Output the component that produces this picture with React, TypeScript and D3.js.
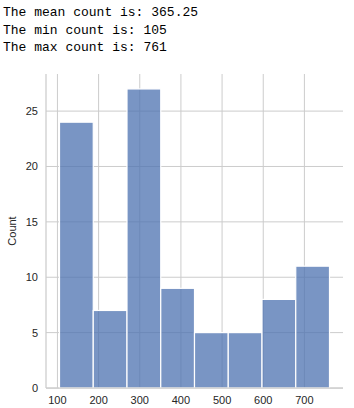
import React from "react";
import * as d3 from "d3";

const statLines = [
  "The mean count is: 365.25",
  "The min count is: 105",
  "The max count is: 761",
];
const binEdges = [105, 187, 269, 351, 433, 515, 597, 679, 761];
const counts = [24, 7, 27, 9, 5, 5, 8, 11];
const xTicks = [100, 200, 300, 400, 500, 600, 700];
const yTicks = [0, 5, 10, 15, 20, 25];

export default function App() {
  const W = 354, H = 408;
  const left = 46, right = 343, top = 74, bottom = 388;
  const lo = 105, hi = 761, pad = (hi - lo) * 0.05;
  const x = d3.scaleLinear().domain([lo - pad, hi + pad]).range([left, right]);
  const ymax = (d3.max(counts) as number) * 1.05;
  const y = d3.scaleLinear().domain([0, ymax]).range([bottom, top]);
  const grid = "#cccccc";
  return (
    <svg width={W} height={H} style={{ position: "absolute", left: 0, top: 0 }}>
      <rect width={W} height={H} fill="#fff" />
      {statLines.map((t, i) => (
        <text key={i} x={3} y={16 + i * 17.5} fontFamily="'Liberation Mono', 'Courier New', monospace" fontSize={13} fill="#000">
          {t}
        </text>
      ))}
      {xTicks.map((t) => (
        <line key={"gx" + t} x1={x(t)} x2={x(t)} y1={top} y2={bottom} stroke={grid} strokeWidth={1} />
      ))}
      {yTicks.map((t) => (
        <line key={"gy" + t} x1={left} x2={right} y1={y(t)} y2={y(t)} stroke={grid} strokeWidth={1} />
      ))}
      {counts.map((c, i) => (
        <rect
          key={"b" + i}
          x={x(binEdges[i])}
          width={x(binEdges[i + 1]) - x(binEdges[i])}
          y={y(c)}
          height={y(0) - y(c)}
          fill="#4c72b0"
          fillOpacity={0.75}
          stroke="#fff"
          strokeWidth={1.2}
        />
      ))}
      <line x1={left} x2={left} y1={top} y2={bottom} stroke={grid} strokeWidth={1.25} />
      <line x1={left} x2={right} y1={bottom} y2={bottom} stroke={grid} strokeWidth={1.25} />
      {xTicks.map((t) => (
        <text key={"tx" + t} x={x(t)} y={bottom + 16} textAnchor="middle" fontFamily="'Liberation Sans', Arial, sans-serif" fontSize={11} fill="#262626">
          {t}
        </text>
      ))}
      {yTicks.map((t) => (
        <text key={"ty" + t} x={left - 8} y={y(t) + 4} textAnchor="end" fontFamily="'Liberation Sans', Arial, sans-serif" fontSize={11} fill="#262626">
          {t}
        </text>
      ))}
      <text transform={`translate(16,${(top + bottom) / 2}) rotate(-90)`} textAnchor="middle" fontFamily="'Liberation Sans', Arial, sans-serif" fontSize={11} fill="#262626">
        Count
      </text>
    </svg>
  );
}
